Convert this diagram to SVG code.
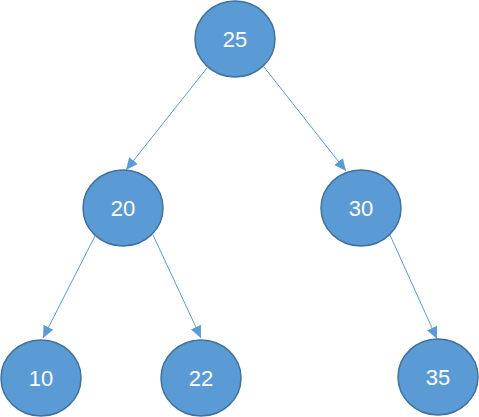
<svg xmlns="http://www.w3.org/2000/svg" width="479" height="417" viewBox="0 0 479 417">
<defs>
<style>
.node ellipse{fill:#5B9BD5;stroke:#41719C;stroke-width:1.5}
.node text{fill:#fff;font-family:"Liberation Sans","Open Sans",Arial,sans-serif;font-size:22px;text-anchor:middle}
.edge{stroke:#5B9BD5;stroke-width:1;fill:none;marker-end:url(#arr)}
</style>
<marker id="arr" markerUnits="userSpaceOnUse" markerWidth="13" markerHeight="13" viewBox="0 0 13 13" refX="12" refY="6.5" orient="auto">
<path d="M0,1 L12,6.5 L0,12 Z" fill="#5B9BD5"/>
</marker>
</defs>
<rect width="479" height="417" fill="#fff"/>
<g id="connectors">
<line class="edge" x1="207" y1="68" x2="126" y2="170"/>
<line class="edge" x1="264" y1="67" x2="346" y2="171"/>
<line class="edge" x1="95" y1="236" x2="43" y2="338"/>
<line class="edge" x1="153" y1="235" x2="201" y2="338"/>
<line class="edge" x1="390" y1="235" x2="437" y2="339"/>
</g>
<g id="n25" class="node"><ellipse cx="235" cy="39" rx="40" ry="38"/><text x="235" y="47">25</text></g>
<g id="n20" class="node"><ellipse cx="123" cy="208" rx="40" ry="38"/><text x="123" y="216">20</text></g>
<g id="n30" class="node"><ellipse cx="361" cy="208" rx="40" ry="38"/><text x="361" y="216">30</text></g>
<g id="n10" class="node"><ellipse cx="41" cy="378" rx="40" ry="38"/><text x="41" y="386">10</text></g>
<g id="n22" class="node"><ellipse cx="201" cy="378" rx="40" ry="38"/><text x="201" y="386">22</text></g>
<g id="n35" class="node"><ellipse cx="438" cy="377" rx="40" ry="38"/><text x="438" y="385">35</text></g>
</svg>
